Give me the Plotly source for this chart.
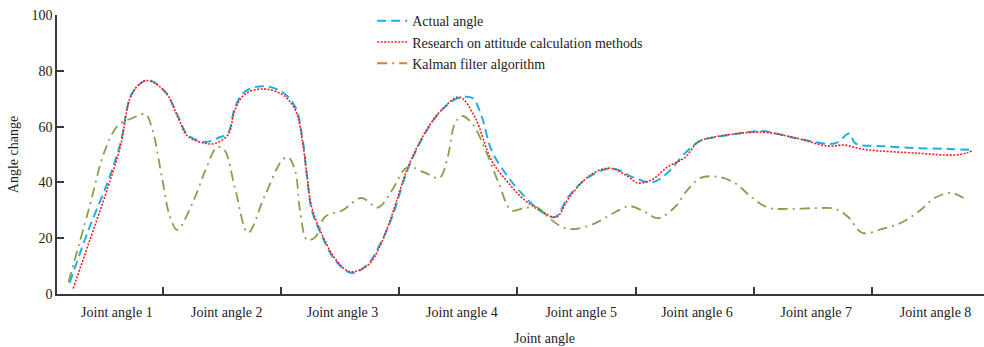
import plotly.graph_objects as go

# x positions are in "joint angle" category units (category k spans k-1..k)
actual_x = [0.21, 0.37, 0.54, 0.64, 0.74, 0.87, 1.02, 1.13, 1.21, 1.36, 1.47, 1.55, 1.61, 1.69, 1.84,
            2.01, 2.12, 2.18, 2.22, 2.26, 2.35, 2.46, 2.60, 2.74, 2.84, 2.94, 3.07, 3.22, 3.36, 3.50,
            3.62, 3.70, 3.78, 3.92, 4.06, 4.19, 4.32, 4.43, 4.57, 4.72, 4.83, 4.97, 5.14, 5.27, 5.42,
            5.55, 5.65, 5.84, 6.07, 6.24, 6.43, 6.69, 6.81, 6.86, 7.09, 7.38, 7.66, 7.86]
actual_y = [4, 23, 41, 54, 72, 76.7, 72.4, 63.5, 57, 54.5, 56, 57.7, 67, 72.4, 74.5,
            72.4, 67, 56, 42, 30, 20.4, 12, 7.5, 11, 18, 27.6, 44.4, 57.7, 66, 70.2,
            70.2, 63.4, 51.6, 42, 35, 30, 27.6, 34.8, 40.9, 44.4, 44.8, 42, 40, 43.4, 50.5,
            55, 56, 57.3, 58.4, 57, 55.2, 54, 57.5, 54, 53, 52.3, 52, 51.6]

research_x = [0.24, 0.37, 0.54, 0.64, 0.74, 0.86, 1.02, 1.13, 1.21, 1.36, 1.44, 1.55, 1.61, 1.69, 1.84,
              2.01, 2.12, 2.18, 2.22, 2.26, 2.35, 2.46, 2.58, 2.74, 2.84, 2.94, 3.07, 3.22, 3.36, 3.51,
              3.64, 3.78, 3.92, 4.06, 4.19, 4.33, 4.43, 4.57, 4.70, 4.80, 4.94, 5.02, 5.14, 5.27, 5.42,
              5.53, 5.67, 6.07, 6.35, 6.63, 6.77, 6.88, 6.98, 7.38, 7.69, 7.80, 7.86]
research_y = [2, 18, 39, 53, 72, 76.5, 72.4, 63, 56.5, 54, 54, 57, 66, 71.5, 73.5,
              71.5, 66, 55, 42, 31, 21, 12.5, 8, 10.5, 17.5, 28.5, 45, 58, 66, 70.6,
              63.4, 48, 40, 33.7, 30, 27.6, 34, 41, 44.5, 45, 42, 39.8, 41, 45.5, 49,
              54.5, 56.3, 58, 56, 53, 53.4, 52.3, 51.6, 50.5, 49.8, 50.5, 51.6]

kalman_x = [0.20, 0.37, 0.51, 0.62, 0.74, 0.85, 0.91, 0.99, 1.06, 1.12, 1.25, 1.36, 1.46, 1.52, 1.61,
            1.72, 1.86, 2.01, 2.06, 2.12, 2.16, 2.22, 2.29, 2.37, 2.52, 2.68, 2.82, 2.94, 3.07, 3.22,
            3.34, 3.41, 3.47, 3.53, 3.62, 3.73, 3.84, 3.95, 4.06, 4.17, 4.26, 4.38, 4.49, 4.66, 4.83,
            4.95, 5.08, 5.19, 5.33, 5.44, 5.55, 5.70, 5.84, 5.98, 6.12, 6.32, 6.54, 6.69, 6.80, 6.92,
            7.09, 7.26, 7.41, 7.53, 7.68, 7.80]
kalman_y = [4.3, 30, 51.6, 60.5, 63, 64.5, 59, 42, 27.6, 23, 32.6, 44.4, 52.7, 51.6, 38,
            22, 35, 48, 49, 44, 30, 19.4, 20.4, 27.6, 30, 34.4, 31, 37.3, 45.5, 43.4,
            41.6, 49, 61, 63.8, 61, 51.6, 40, 30, 30.8, 31, 27.6, 24, 23.3, 25.4, 29.4,
            31.5, 29.4, 27.2, 31, 37.3, 41.6, 42, 39.8, 34.8, 31, 30.5, 30.8, 30.5, 27.6, 21.9,
            23.3, 25.8, 30, 34.4, 36.2, 33.7]

category_labels = ["Joint angle 1", "Joint angle 2", "Joint angle 3", "Joint angle 4",
                   "Joint angle 5", "Joint angle 6", "Joint angle 7", "Joint angle 8"]
label_pos = [0.61, 1.54, 2.52, 3.53, 4.54, 5.52, 6.53, 7.54]
boundaries = [1, 2, 3, 4, 5, 6, 7]

FONT = "Liberation Serif"
AX = "#3a3a3a"
FS = 14

fig = go.Figure()
fig.add_trace(go.Scatter(x=actual_x, y=actual_y, mode="lines", name="Actual angle",
                         line=dict(color="#1CB0E6", width=2, dash="9px,5px", shape="spline", smoothing=1)))
fig.add_trace(go.Scatter(x=research_x, y=research_y, mode="lines", name="Research on attitude calculation methods",
                         line=dict(color="#FF1A1A", width=1.6, dash="2px,1.5px", shape="spline", smoothing=1)))
fig.add_trace(go.Scatter(x=kalman_x, y=kalman_y, mode="lines", name="Kalman filter algorithm",
                         showlegend=False,
                         line=dict(color="#87A04C", width=1.8, dash="10px,5px,2px,5px", shape="spline", smoothing=1)))
fig.add_trace(go.Scatter(x=[None], y=[None], mode="lines", name="Kalman filter algorithm",
                         line=dict(color="#DA7E3A", width=1.8, dash="10px,5px,2px,5px")))

fig.update_layout(
    width=984, height=347,
    margin=dict(l=57, r=0, t=15, b=53),
    plot_bgcolor="white", paper_bgcolor="white",
    font=dict(family=FONT, size=FS, color="#222222"),
    showlegend=True,
    legend=dict(x=0.340, y=1.035, xanchor="left", yanchor="top", bgcolor="rgba(0,0,0,0)",
                font=dict(family=FONT, size=FS, color="#222222"), tracegroupgap=0),
    xaxis=dict(range=[0.103, 7.95], showline=True, linecolor=AX, linewidth=1.5,
               showgrid=False, zeroline=False,
               tickmode="array", tickvals=label_pos, ticktext=category_labels, ticks="",
               ticklabelstandoff=4,
               minor=dict(tickmode="array", tickvals=boundaries, ticks="inside",
                          ticklen=7, tickcolor=AX, tickwidth=1.5)),
    yaxis=dict(range=[0, 100], showline=True, linecolor=AX, linewidth=1.5,
               showgrid=False, zeroline=False, tickmode="linear", tick0=0, dtick=20,
               ticks="inside", ticklen=7, tickcolor=AX, tickwidth=1.5,
               title=dict(text="Angle change", font=dict(family=FONT, size=FS), standoff=10)),
    annotations=[dict(text="Joint angle", x=0.526, y=-(338 - 294) / 279, xref="paper", yref="paper",
                      yanchor="middle", showarrow=False,
                      font=dict(family=FONT, size=FS, color="#222222"))],
)

fig.write_html("out.html")
